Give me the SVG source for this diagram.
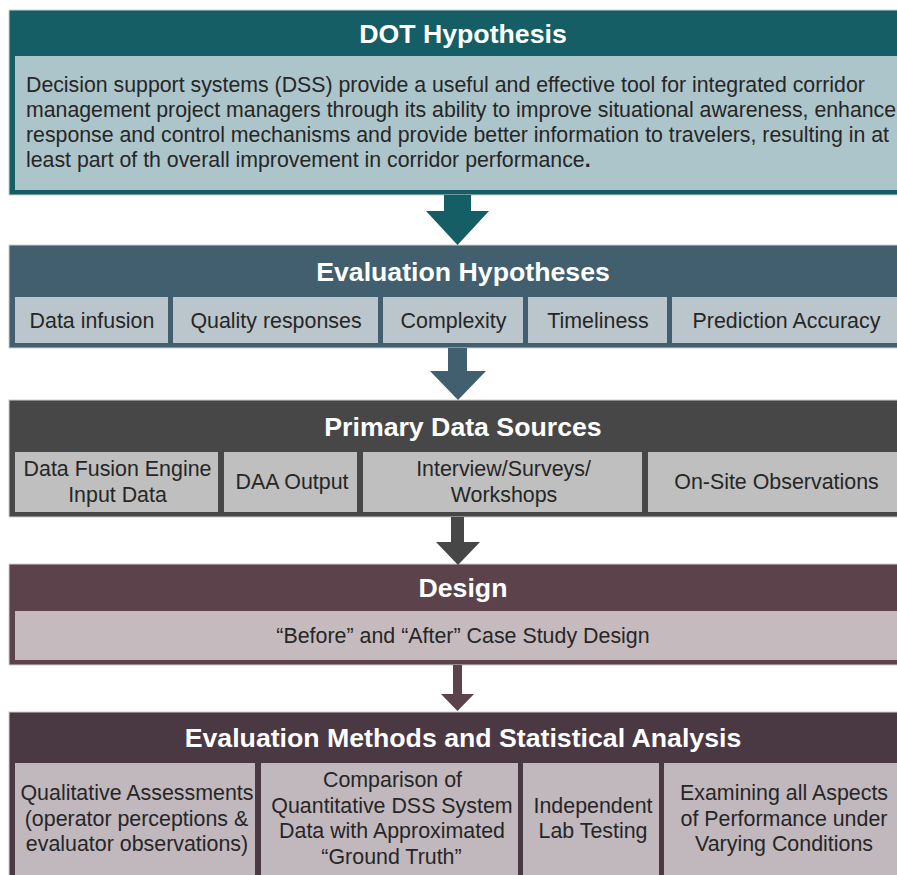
<svg xmlns="http://www.w3.org/2000/svg" width="897" height="875" viewBox="0 0 897 875">
<style>
.t{font-family:"Liberation Sans",Arial,sans-serif;font-weight:bold;font-size:26.7px;fill:#fff;text-anchor:middle}
.b{font-family:"Liberation Sans",Arial,sans-serif;font-size:21.4px;fill:#262626;text-anchor:middle}
.p{font-family:"Liberation Sans",Arial,sans-serif;font-size:21.3px;fill:#262626}
.o{stroke:#d0d0d0;stroke-width:1}
</style>
<rect width="897" height="875" fill="#fff"/>
<g id="dot-hypothesis">
<rect class="o" x="9" y="10" width="908" height="185" fill="#165E66"/>
<text class="t" x="463" y="42.5">DOT Hypothesis</text>
<rect x="15" y="56" width="897" height="134" fill="#ACC5CA"/>
<text class="p" x="26" y="92">Decision support systems (DSS) provide a useful and effective tool for integrated corridor</text>
<text class="p" x="26" y="117">management project managers through its ability to improve situational awareness, enhance</text>
<text class="p" x="26" y="142">response and control mechanisms and provide better information to travelers, resulting in at</text>
<text class="p" x="26" y="167">least part of th overall improvement in corridor performance<tspan font-weight="bold">.</tspan></text>
</g>
<g id="evaluation-hypotheses">
<rect class="o" x="9" y="245" width="908" height="103" fill="#415F6E"/>
<text class="t" x="463" y="280.5">Evaluation Hypotheses</text>
<g id="eh-data-infusion"><rect x="15" y="297" width="153" height="46" fill="#BAC6CC"/><text class="b" x="92" y="328">Data infusion</text></g>
<g id="eh-quality"><rect x="173" y="297" width="205" height="46" fill="#BAC6CC"/><text class="b" x="276" y="328">Quality responses</text></g>
<g id="eh-complexity"><rect x="383" y="297" width="140" height="46" fill="#BAC6CC"/><text class="b" x="453.5" y="328">Complexity</text></g>
<g id="eh-timeliness"><rect x="528" y="297" width="139" height="46" fill="#BAC6CC"/><text class="b" x="598" y="328">Timeliness</text></g>
<g id="eh-prediction"><rect x="672" y="297" width="240" height="46" fill="#BAC6CC"/><text class="b" x="786.5" y="328">Prediction Accuracy</text></g>
</g>
<g id="primary-data-sources">
<rect class="o" x="9" y="400" width="908" height="117" fill="#474747"/>
<text class="t" x="463" y="435.5">Primary Data Sources</text>
<g id="pds-fusion"><rect x="15" y="452" width="203" height="60" fill="#BFBFBF"/><text class="b" x="117.5" y="475.5">Data Fusion Engine</text><text class="b" x="117.5" y="501.5">Input Data</text></g>
<g id="pds-daa"><rect x="224" y="452" width="133" height="60" fill="#BFBFBF"/><text class="b" x="292" y="489">DAA Output</text></g>
<g id="pds-interview"><rect x="363" y="452" width="279" height="60" fill="#BFBFBF"/><text class="b" x="503.5" y="475.5">Interview/Surveys/</text><text class="b" x="504" y="501.5">Workshops</text></g>
<g id="pds-onsite"><rect x="648" y="452" width="264" height="60" fill="#BFBFBF"/><text class="b" x="776.5" y="489">On-Site Observations</text></g>
</g>
<g id="design">
<rect class="o" x="9" y="564" width="908" height="101" fill="#5C434B"/>
<text class="t" x="463" y="597">Design</text>
<g id="design-case"><rect x="15" y="611" width="897" height="49" fill="#C5BBBF"/><text class="b" x="463" y="643">“Before” and “After” Case Study Design</text></g>
</g>
<g id="evaluation-methods">
<rect class="o" x="9" y="712" width="908" height="175" fill="#4A3843"/>
<text class="t" x="463" y="747">Evaluation Methods and Statistical Analysis</text>
<g id="em-qualitative"><rect x="15" y="763" width="240" height="117" fill="#C0B8BD"/><text class="b" x="137" y="800">Qualitative Assessments</text><text class="b" x="136.5" y="825.5">(operator perceptions &amp;</text><text class="b" x="137" y="851">evaluator observations)</text></g>
<g id="em-comparison"><rect x="261" y="763" width="257" height="117" fill="#C0B8BD"/><text class="b" x="392.5" y="787">Comparison of</text><text class="b" x="392" y="812.5">Quantitative DSS System</text><text class="b" x="392" y="838">Data with Approximated</text><text class="b" x="391.5" y="863.5">“Ground Truth”</text></g>
<g id="em-lab"><rect x="523" y="763" width="136" height="117" fill="#C0B8BD"/><text class="b" x="593" y="812.5">Independent</text><text class="b" x="593" y="838">Lab Testing</text></g>
<g id="em-examining"><rect x="664" y="763" width="248" height="117" fill="#C0B8BD"/><text class="b" x="784" y="800">Examining all Aspects</text><text class="b" x="784" y="825.5">of Performance under</text><text class="b" x="784" y="851">Varying Conditions</text></g>
</g>
<g id="connectors">
<polygon points="444,195 471,195 471,211 489,211 457.5,245 426,211 444,211" fill="#165E66"/>
<polygon points="448,348 467,348 467,371 486,371 458,400 430,371 448,371" fill="#415F6E"/>
<polygon points="451,517 464,517 464,542 480,542 458,565 436,542 451,542" fill="#474747"/>
<polygon points="453,665 462,665 462,694 474,694 457.5,711 441,694 453,694" fill="#5C434B"/>
</g>
</svg>
